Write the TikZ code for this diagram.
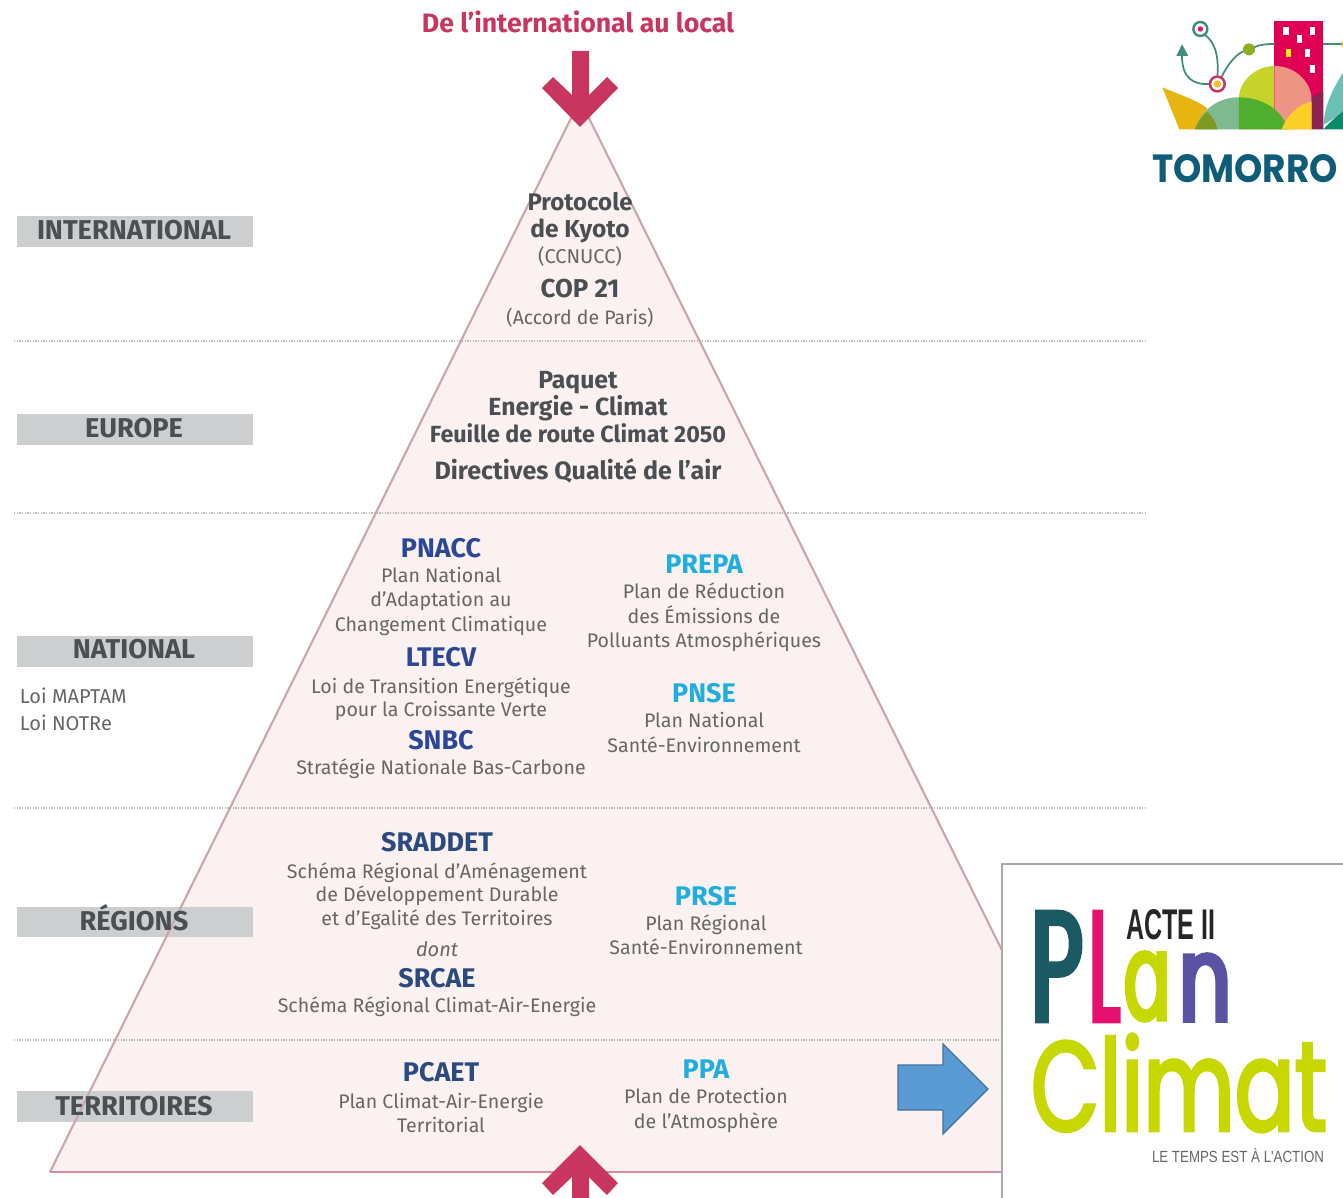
\documentclass[tikz,border=0pt]{standalone}
\usepackage{fontspec}
\usepackage{graphicx}
\setmainfont{Fira Sans}
\newfontfamily\logofont{Poppins}
\newfontfamily\lgA[FakeStretch=0.5,FakeBold=3]{Poppins}
\newfontfamily\lgC[FakeStretch=0.75,FakeBold=2.5]{Poppins}
\newfontfamily\condfont{Liberation Sans}
\newlength{\px}\setlength{\px}{0.75pt}
\newcommand{\lgP}[1]{\fontsize{120}{120}\selectfont\lgA #1}
\newcommand{\lgS}[1]{\fontsize{97}{97}\selectfont\lgA #1}
\definecolor{tri}{HTML}{FBF1F1}
\definecolor{triedge}{HTML}{C9A7AE}
\definecolor{pinkline}{HTML}{D98CA0}
\definecolor{crim}{HTML}{C8365F}
\definecolor{heading}{HTML}{4B4F54}
\definecolor{body}{HTML}{666666}
\definecolor{navy}{HTML}{2B4796}
\definecolor{navyb}{HTML}{2A4A80}
\definecolor{cyanb}{HTML}{1FAEDD}
\definecolor{labelbg}{HTML}{CCCED0}
\definecolor{dots}{HTML}{BBBBBB}
\definecolor{lime}{HTML}{C6D800}
\definecolor{petrol}{HTML}{1C5A63}
\definecolor{magentaL}{HTML}{E5116F}
\definecolor{violetn}{HTML}{5B52A3}
\definecolor{logoline}{HTML}{3F8C7D}
\definecolor{tom}{HTML}{0E5C78}
\tikzset{
 every node/.style={inner sep=0pt,outer sep=0pt,text height=.72em,text depth=.2em,yshift=-3.75pt},
 co/.style={yshift=3.75pt},
 hb/.style={font=\fontsize{18.4}{20}\selectfont\bfseries,text=heading},
 bd/.style={font=\fontsize{14.7}{18}\selectfont,text=body},
 sm/.style={font=\fontsize{14.6}{18}\selectfont,text=body},
 bl/.style={font=\fontsize{20.2}{22}\selectfont\bfseries,text=navy},
 bn/.style={font=\fontsize{20.2}{22}\selectfont\bfseries,text=navyb},
 cy/.style={font=\fontsize{20.2}{22}\selectfont\bfseries,text=cyanb},
 lab/.style={font=\fontsize{20.4}{22}\selectfont\bfseries,text=heading},
 labbox/.style={fill=labelbg,draw=none},
 sep/.style={draw=dots,line width=2.2pt,dash pattern=on 1pt off 1pt},
 bigarrow/.style={fill=crim,draw=none},
 plainbox/.style={text height=,text depth=,inner sep=0pt,yshift=3.75pt},
}
\begin{document}
\begin{tikzpicture}[x=0.75pt,y=-0.75pt]
\useasboundingbox (0,0) rectangle (1343,1198);
\clip (0,0) rectangle (1343,1198);
\fill[white] (0,0) rectangle (1343,1198);
% pyramid
\coordinate[co] (apex) at (580,100);
\coordinate[co] (bl) at (50,1172);
\coordinate[co] (br) at (1112,1172);
\fill[tri] (apex) -- (bl) -- (br) -- cycle;
% separators
\coordinate[co] (s1a) at (14,341); \coordinate[co] (s1b) at (1145,341);
\coordinate[co] (s2a) at (14,513); \coordinate[co] (s2b) at (1145,513);
\coordinate[co] (s3a) at (14,808); \coordinate[co] (s3b) at (1145,808);
\coordinate[co] (s4a) at (14,1040); \coordinate[co] (s4b) at (1145,1040);
\draw[sep] (s1a) -- (s1b);
\draw[sep] (s2a) -- (s2b);
\draw[sep] (s3a) -- (s3b);
\draw[sep] (s4a) -- (s4b);
% label boxes
\fill[labbox] (17,216) rectangle (253,247);
\fill[labbox] (17,414) rectangle (253,445);
\fill[labbox] (17,636) rectangle (253,667);
\fill[labbox] (17,907) rectangle (253,937);
\fill[labbox] (17,1091) rectangle (253,1122);
% pyramid edges
\draw[triedge,line width=1.6pt] (apex) -- (bl);
\draw[triedge,line width=1.6pt] (apex) -- (br);
\draw[pinkline,line width=2.2pt] (bl) -- (br);
% arrows
\fill[bigarrow] (572,51) -- (589,51) -- (589,95) -- (607,77) -- (618,88) -- (580,127) -- (542,88) -- (553,77) -- (572,95) -- cycle;
\fill[bigarrow] (580,1145) -- (618,1183) -- (607,1195) -- (589,1177) -- (589,1198) -- (572,1198) -- (572,1177) -- (553,1195) -- (542,1183) -- cycle;
% title
\node[font=\fontsize{20}{22}\selectfont\bfseries,text=crim] (title) at (578,24) {De l'international au local};
% labels
\node[lab] (lint) at (134,231) {INTERNATIONAL};
\node[lab] (leur) at (134,429) {EUROPE};
\node[lab] (lnat) at (134,650) {NATIONAL};
\node[lab] (lreg) at (134,922) {RÉGIONS};
\node[lab] (lter) at (134,1107) {TERRITOIRES};
\node[bd,font=\fontsize{15}{18}\selectfont,anchor=west] (maptam) at (20,695) {Loi MAPTAM};
\node[bd,font=\fontsize{15}{18}\selectfont,anchor=west] (notre) at (20,722) {Loi NOTRe};
% international
\node[hb,font=\fontsize{18}{20}\selectfont\bfseries] (a1) at (580,202) {Protocole};
\node[hb] (a2) at (580,229) {de Kyoto};
\node[sm,font=\fontsize{15}{18}\selectfont] (a3) at (580,255) {(CCNUCC)};
\node[hb,font=\fontsize{19.4}{20}\selectfont\bfseries] (a4) at (580,289) {COP 21};
\node[sm] (a5) at (580,316) {(Accord de Paris)};
% europe
\node[hb,font=\fontsize{18.6}{20}\selectfont\bfseries] (b1) at (578,380) {Paquet};
\node[hb,font=\fontsize{18.6}{20}\selectfont\bfseries] (b2) at (578,407) {Energie - Climat};
\node[hb,font=\fontsize{17.5}{20}\selectfont\bfseries] (b3) at (578,434) {Feuille de route Climat 2050};
\node[hb,font=\fontsize{18.8}{20}\selectfont\bfseries] (b4) at (578,471) {Directives Qualité de l'air};
% national left
\node[bl] (c1) at (441,549) {PNACC};
\node[bd] (c2) at (441,574) {Plan National};
\node[bd] (c3) at (441,598) {d'Adaptation au};
\node[bd] (c4) at (441,623) {Changement Climatique};
\node[bl] (c5) at (441,658) {LTECV};
\node[bd] (c6) at (441,685) {Loi de Transition Energétique};
\node[bd] (c7) at (441,708) {pour la Croissante Verte};
\node[bl] (c8) at (441,741) {SNBC};
\node[bd] (c9) at (441,766) {Stratégie Nationale Bas-Carbone};
% national right
\node[cy] (d1) at (704,565) {PREPA};
\node[bd] (d2) at (704,590) {Plan de Réduction};
\node[bd] (d3) at (704,615) {des Émissions de};
\node[bd] (d4) at (704,639) {Polluants Atmosphériques};
\node[cy] (d5) at (704,694) {PNSE};
\node[bd] (d6) at (704,719) {Plan National};
\node[bd] (d7) at (704,744) {Santé-Environnement};
% regions
\node[bn] (e1) at (437,843) {SRADDET};
\node[bd] (e2) at (437,870) {Schéma Régional d'Aménagement};
\node[bd] (e3) at (437,893) {de Développement Durable};
\node[bd] (e4) at (437,917) {et d'Egalité des Territoires};
\node[bd,font=\fontsize{15}{18}\selectfont\itshape] (e5) at (437,948) {dont};
\node[bn] (e6) at (437,979) {SRCAE};
\node[bd] (e7) at (437,1004) {Schéma Régional Climat-Air-Energie};
\node[cy] (f1) at (706,897) {PRSE};
\node[bd] (f2) at (706,922) {Plan Régional};
\node[bd] (f3) at (706,946) {Santé-Environnement};
% territories
\node[bn] (g1) at (441,1073) {PCAET};
\node[bd] (g2) at (441,1100) {Plan Climat-Air-Energie};
\node[bd] (g3) at (441,1124) {Territorial};
\node[cy] (h1) at (706,1070) {PPA};
\node[bd] (h2) at (706,1095) {Plan de Protection};
\node[bd] (h3) at (706,1120) {de l'Atmosphère};
% blue arrow
\draw[fill={rgb,255:red,91;green,155;blue,213},draw={rgb,255:red,65;green,113;blue,156},line width=1pt]
 (898,1065) -- (943,1065) -- (943,1044) -- (988,1089) -- (943,1134) -- (943,1110) -- (898,1110) -- cycle;
% plan climat panel
\draw[fill=white,draw={rgb,255:red,170;green,170;blue,170},line width=2.2pt] (1002,864) rectangle (1350,1205);
\node[plainbox,anchor=south west,text=petrol] (pP) at (1031,1021) {\resizebox{52\px}{109\px}{\lgP{P}}};
\node[plainbox,anchor=south west,text=magentaL] (pL) at (1089,1021) {\resizebox{31\px}{109\px}{\lgP{L}}};
\node[plainbox,anchor=south west,text=lime] (pa) at (1124,1021) {\resizebox{46\px}{68\px}{\lgS{a}}};
\node[plainbox,anchor=south west,text=violetn] (pn) at (1179,1021) {\resizebox{52\px}{67\px}{\lgS{n}}};
\node[plainbox,anchor=south west,text=black!85] (acte) at (1126,940) {\resizebox{89\px}{30\px}{\condfont\bfseries ACTE II}};
\node[plainbox,anchor=south west,text=lime] (clim) at (1031,1132) {\resizebox{296\px}{97\px}{\fontsize{99}{99}\selectfont\lgC Climat}};
\node[plainbox,anchor=south west,text=black!60] (temps) at (1152,1163) {\resizebox{172\px}{14\px}{\condfont LE TEMPS EST À L'ACTION}};
% logo
\begin{scope}[xshift=847.5pt,x=.25pt,y=-.25pt]
\fill[fill={rgb,255:red,197;green,211;blue,43}] (327,388) -- (327,290) .. controls (330,240) and (380,198) .. (433,198) -- (433,388) -- cycle;
\fill[fill={rgb,255:red,224;green,0;blue,84}] (433,62) rectangle (580,388);
\fill[fill={rgb,255:red,238;green,148;blue,132}] (433,198) .. controls (500,198) and (545,250) .. (545,300) -- (545,388) -- (433,388) -- cycle;
\fill[fill={rgb,255:red,139;green,34;blue,82}] (545,290) -- (580,275) -- (580,388) -- (545,388) -- cycle;
\fill[fill={rgb,255:red,108;green,191;blue,181}] (580,375) .. controls (585,300) and (620,250) .. (650,200) -- (650,330) -- cycle;
\fill[fill={rgb,255:red,11;green,138;blue,106}] (580,388) .. controls (600,365) and (625,345) .. (650,325) -- (650,388) -- cycle;
\fill[fill={rgb,255:red,232;green,180;blue,15}] (97,262) .. controls (150,285) and (200,300) .. (232,325) -- (195,388) -- (148,388) -- cycle;
\fill[fill={rgb,255:red,127;green,185;blue,143}] (195,388) .. controls (215,325) and (270,292) .. (325,292) -- (325,388) -- cycle;
\fill[fill={rgb,255:red,77;green,174;blue,47}] (325,292) .. controls (400,292) and (455,330) .. (475,388) -- (325,388) -- cycle;
\fill[fill={rgb,255:red,127;green,154;blue,32}] (195,388) .. controls (203,365) and (215,350) .. (232,335) .. controls (248,350) and (258,370) .. (263,388) -- cycle;
\fill[fill={rgb,255:red,251;green,208;blue,40}] (455,388) .. controls (470,345) and (510,310) .. (545,305) -- (545,388) -- cycle;
\foreach \wx/\wy/\wc in {468/92/white,547/92/white,509/118/white,532/158/white,476/158/yellow,547/207/white}
  \fill[\wc] (\wx-8,\wy-12) rectangle (\wx+8,\wy+12);
\draw[logoline,line width=1.3pt] (225,105) .. controls (265,135) and (265,190) .. (262,235);
\draw[logoline,line width=1.3pt] (240,252) .. controls (190,255) and (155,235) .. (156,165);
\draw[logoline,line width=1.3pt] (275,230) .. controls (295,190) and (320,160) .. (345,152);
\draw[logoline,line width=1.3pt] (372,142) .. controls (395,132) and (415,132) .. (433,132);
\draw[logoline,line width=1.3pt] (580,132) -- (635,132);
\fill[logoline] (156,133) -- (175,168) -- (139,168) -- cycle;
\draw[logoline,line width=1.8pt,fill=white] (211,87) circle (21);
\fill[magentaL] (211,87) circle (8);
\fill[crim] (262,252) circle (26);
\fill[white] (262,252) circle (18);
\fill[fill={rgb,255:red,250;green,190;blue,40}] (262,252) circle (11);
\fill[fill={rgb,255:red,143;green,174;blue,32}] (357,148) circle (18);
\fill[fill={rgb,255:red,235;green,190;blue,30}] (648,133) circle (14);
\end{scope}
\node[plainbox,anchor=south west,text=tom] (tomorrow) at (1152,183) {\resizebox{186\px}{28\px}{\logofont\bfseries TOMORRO}};
\end{tikzpicture}
\end{document}
